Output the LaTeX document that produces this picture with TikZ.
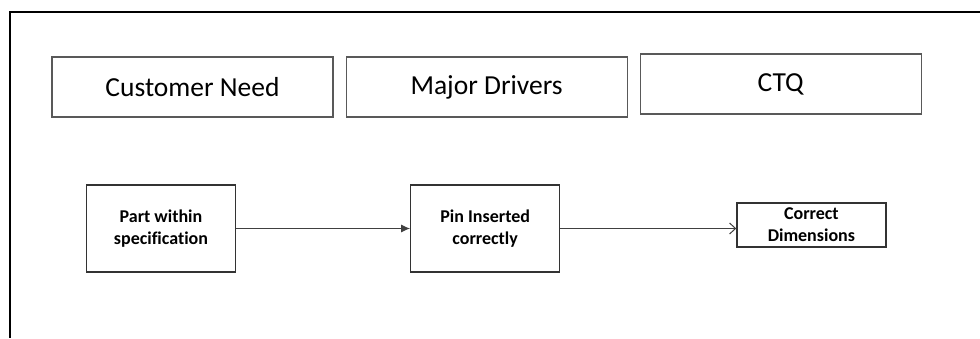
\documentclass[tikz,border=0pt]{standalone}
\usepackage{fontspec}
\setmainfont{Carlito}[Ligatures=NoCommon]
\usetikzlibrary{arrows.meta,positioning}

\begin{document}
\begin{tikzpicture}[
    x=1pt, y=-1pt,
    head/.style={rectangle,draw=black!65,line width=1.1pt,minimum width=281pt,minimum height=60pt,inner sep=0pt,font=\fontsize{27.5}{32}\selectfont},
    item/.style={rectangle,draw=black!80,line width=1.2pt,minimum width=149pt,inner sep=0pt,align=center,font=\fontsize{18}{21.7}\selectfont\bfseries},
    link/.style={draw=black!75,line width=1pt}
]
\useasboundingbox (0,0) rectangle (980,338);

% Frame
\draw[line width=2pt] (980,11.5) -- (10,11.5) -- (10,338);

% Column headers
\node[head] (need) at (192.5,87) {Customer Need};
\node[head,right=12pt of need] (drivers) {Major Drivers};
\node[head,right=12pt of drivers,yshift=3pt] (ctq) {CTQ};

% Chain of items
\node[item,minimum height=87pt] (part) at (161,228.5) {Part within\\specification};
\node[item,minimum height=87pt,right=174pt of part] (pin) {Pin Inserted\\correctly};
\node[item,minimum height=44pt,right=176pt of pin,yshift=3.5pt] (dims) {Correct\\Dimensions};

% Links
\draw[link,-{Latex[length=9pt,width=8pt]}] (part) -- (pin);
\draw[link,-{Straight Barb[length=6pt,width=11pt]}] (pin) -- (pin -| dims.west);

\end{tikzpicture}
\end{document}
